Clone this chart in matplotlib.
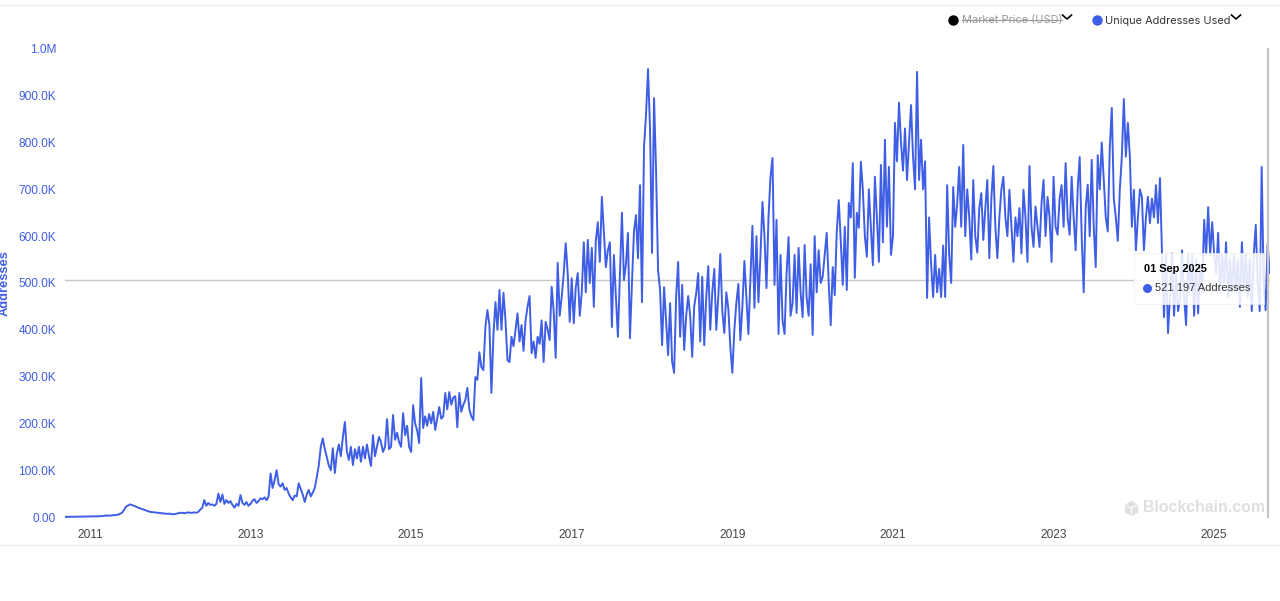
import numpy as np
import matplotlib
matplotlib.use("Agg")
import matplotlib.pyplot as plt
from matplotlib.lines import Line2D
from matplotlib.patches import Rectangle

# Unique addresses used, thousands
vals_2010 = [0.3, 0.4, 0.5, 0.5, 0.6, 0.7, 0.8, 0.9]
vals_2011 = [1, 1, 1.5, 2, 3, 3, 4, 5, 9, 22, 27, 24, 20, 17, 14, 11, 10, 9, 8, 7]
vals_2012 = [7, 6, 6, 7, 8, 9, 9, 8, 9, 10, 9, 9, 10, 9, 11, 16, 20, 36, 24, 30,
             26, 27, 24, 28, 50, 32, 48, 28, 36, 30, 34, 26, 20, 28, 24, 47, 30, 26, 32, 24]
vals_2013 = [28, 35, 38, 30, 34, 40, 38, 42, 36, 44, 93, 62, 78, 100, 70, 65, 72, 58, 62, 50,
             42, 36, 46, 44, 72, 60, 48, 32, 48, 58, 44, 52, 62, 85, 110, 150, 168, 145, 128, 110]
vals_2014 = [100, 147, 94, 135, 155, 130, 170, 203, 140, 122, 150, 111, 145, 125, 150, 118,
             150, 125, 155, 130, 109, 175, 130, 150, 171, 160, 139, 150, 209, 145, 150, 218,
             165, 180, 160, 150, 222, 175, 195, 150]
vals_2015 = [139, 239, 200, 185, 158, 297, 190, 215, 195, 220, 200, 225, 186, 210, 235, 210,
             215, 265, 230, 267, 240, 255, 258, 192, 265, 225, 240, 250, 276, 230, 215, 207,
             299, 293, 352, 320, 314, 406, 442, 410]
vals_2016 = [265, 390, 459, 400, 485, 400, 479, 420, 335, 331, 385, 365, 400, 435, 375, 410,
             355, 420, 450, 472, 350, 375, 340, 385, 370, 420, 331, 417, 400, 378, 492, 440,
             340, 543, 430, 470, 520, 585, 520, 417]
vals_2017 = [510, 414, 490, 521, 430, 480, 587, 480, 592, 500, 575, 449, 590, 630, 545, 684,
             610, 534, 570, 587, 406, 560, 470, 385, 520, 650, 506, 540, 607, 382, 500, 610,
             645, 553, 709, 459, 790, 860, 957, 830]
vals_2018 = [564, 895, 741, 527, 485, 367, 491, 420, 346, 457, 332, 308, 470, 545, 385, 496,
             357, 430, 472, 430, 342, 450, 478, 521, 375, 513, 367, 470, 536, 400, 480, 530,
             400, 470, 562, 440, 393, 480, 445, 363]
vals_2019 = [308, 400, 457, 498, 378, 450, 547, 470, 391, 510, 622, 447, 600, 459, 560, 673,
             600, 489, 640, 727, 767, 496, 635, 391, 560, 420, 391, 520, 598, 430, 457, 560,
             436, 575, 480, 427, 581, 470, 430, 540]
vals_2020 = [389, 600, 480, 570, 500, 513, 560, 607, 500, 410, 534, 474, 609, 677, 590, 496,
             620, 485, 671, 640, 756, 511, 650, 618, 759, 700, 600, 556, 700, 620, 538, 727,
             640, 545, 752, 587, 806, 620, 748, 560]
vals_2021 = [600, 842, 760, 885, 800, 740, 830, 720, 800, 880, 770, 700, 951, 720, 806, 700,
             760, 468, 640, 540, 470, 560, 480, 530, 470, 580, 470, 709, 560, 500, 705, 620,
             670, 748, 620, 795, 600, 700, 640, 550]
vals_2022 = [720, 600, 565, 660, 692, 592, 660, 720, 553, 680, 750, 620, 553, 640, 700, 727,
             640, 600, 699, 620, 545, 640, 600, 660, 563, 699, 640, 545, 750, 620, 577, 663,
             620, 577, 670, 720, 600, 684, 640, 545]
vals_2023 = [727, 620, 603, 680, 709, 620, 756, 640, 603, 727, 640, 570, 700, 769, 600, 480,
             660, 710, 600, 763, 620, 534, 773, 700, 800, 720, 640, 610, 790, 874, 680, 640,
             590, 700, 770, 893, 770, 842, 770, 620]
vals_2024 = [699, 570, 640, 700, 684, 570, 640, 684, 628, 680, 640, 709, 628, 724, 564, 427,
             560, 393, 470, 563, 430, 520, 440, 465, 570, 470, 410, 560, 480, 560, 430, 550,
             435, 540, 480, 635, 560, 662, 560, 630]
vals_2025 = [560, 520, 607, 480, 560, 500, 587, 470, 550, 480, 560, 480, 550, 449, 587, 490,
             560, 470, 550, 440, 560, 624, 500, 440, 748, 500, 442, 585, 521]

year_lists = [vals_2011, vals_2012, vals_2013, vals_2014, vals_2015, vals_2016, vals_2017,
              vals_2018, vals_2019, vals_2020, vals_2021, vals_2022, vals_2023, vals_2024]
first_year = 2011

y_ticks = [0, 100, 200, 300, 400, 500, 600, 700, 800, 900, 1000]
y_labels = ["0.00", "100.0K", "200.0K", "300.0K", "400.0K", "500.0K", "600.0K",
            "700.0K", "800.0K", "900.0K", "1.0M"]
x_ticks = [2011, 2013, 2015, 2017, 2019, 2021, 2023, 2025]
cursor_date = 2025.67
cursor_value = 507

BLUE = "#3f5ee6"
W, H = 1280, 601


def fx(x):
    return x / W


def fy(y):
    return 1 - y / H


# dates for each year's list, spread through that year
dates = [np.linspace(2010.69, 2011, len(vals_2010), endpoint=False)]
values = [vals_2010]
for i, vals in enumerate(year_lists):
    dates.append(np.linspace(first_year + i, first_year + i + 1, len(vals), endpoint=False))
    values.append(vals)
dates.append(np.linspace(2025, 2025.69, len(vals_2025)))
values.append(vals_2025)
dates = np.concatenate(dates)
values = np.concatenate(values)

fig = plt.figure(figsize=(12.8, 6.01), dpi=100)
ax = fig.add_axes([fx(65), fy(518), (1270 - 65) / W, 470 / H])
ax.plot(dates, values, color=BLUE, lw=1.4, zorder=3)

ax.axhline(cursor_value, color="#c8c8c8", lw=1.0, zorder=2)
ax.axvline(cursor_date, color="#c4c4c4", lw=1.6, zorder=4)

ax.set_xlim(2010.69, 2025.695)
ax.set_ylim(-2.1, 1002)
for s in ax.spines.values():
    s.set_visible(False)
ax.set_yticks(y_ticks)
ax.set_yticklabels(y_labels, color=BLUE, fontsize=8.6, family="Liberation Sans")
ax.set_xticks(x_ticks)
ax.set_xticklabels(x_ticks, color="#444444", fontsize=8.6, family="Liberation Sans")
ax.tick_params(axis="both", length=0)
ax.tick_params(axis="y", pad=6.4)
ax.tick_params(axis="x", pad=7.8)

fig.text(fx(5), fy(283), "Addresses", rotation=90, color=BLUE, fontsize=9.3, fontweight="bold",
         family="Liberation Sans", ha="center", va="center")

# page rules above and below the chart
fig.add_artist(Line2D([0, 1], [fy(5), fy(5)], color="#eeeeee", lw=1))
fig.add_artist(Line2D([0, 1], [fy(545), fy(545)], color="#eeeeee", lw=1))

# legend
fig.add_artist(Line2D([fx(953)], [fy(20)], marker="o", ms=7.5, color="black", mew=0))
fig.text(fx(962), fy(20.5), "Market Price (USD)", color="#999999", fontsize=7.9, family="Inter",
         ha="left", va="center")
fig.add_artist(Line2D([fx(962), fx(1062)], [fy(20), fy(20)], color="#999999", lw=0.8))
fig.add_artist(Line2D([fx(1097)], [fy(20)], marker="o", ms=7.5, color=BLUE, mew=0))
fig.text(fx(1105), fy(20.5), "Unique Addresses Used", color="#333333", fontsize=7.9, family="Inter",
         ha="left", va="center")
for cx in (1067, 1236):
    fig.add_artist(Line2D([fx(cx - 4.5), fx(cx), fx(cx + 4.5)], [fy(15), fy(19), fy(15)],
                          color="black", lw=1.2))

# watermark
fig.add_artist(Line2D([fx(1131)], [fy(508)], marker="h", ms=11, color="#e0e0e0", mew=0))
fig.add_artist(Line2D([fx(1131), fx(1131)], [fy(508), fy(514)], color="white", lw=0.7))
fig.add_artist(Line2D([fx(1125), fx(1131), fx(1137)], [fy(505), fy(508), fy(505)], color="white", lw=0.7))
fig.text(fx(1265), fy(508), "Blockchain.com", color="#dedede", fontsize=11.4, fontweight="bold",
         family="Liberation Sans", ha="right", va="center")

# tooltip
box = Rectangle((fx(1134), fy(304)), 130 / W, 51 / H, transform=fig.transFigure,
                facecolor="white", edgecolor="#f0f0f0", lw=0.6, alpha=0.86, zorder=5)
fig.add_artist(box)
fig.text(fx(1144), fy(269.5), "01 Sep 2025", color="black", fontsize=7.9, fontweight="bold",
         family="Liberation Sans", ha="left", va="center", zorder=6)
tip_dot = Line2D([fx(1147)], [fy(288)], marker="o", ms=6.5, color=BLUE, mew=0, zorder=6)
fig.add_artist(tip_dot)
fig.text(fx(1155), fy(288), "521 197 Addresses", color="#333333", fontsize=8.0,
         family="Liberation Sans", ha="left", va="center", zorder=6)

plt.savefig("out.png", dpi=100)
